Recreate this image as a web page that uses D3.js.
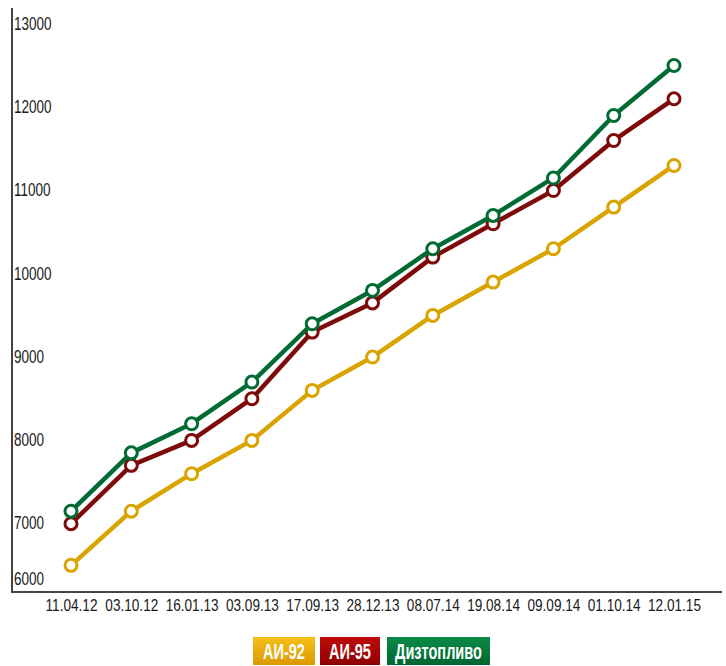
<!DOCTYPE html>
<html>
<head>
<meta charset="utf-8">
<script src="https://cdn.jsdelivr.net/npm/d3@7"></script>
<style>
  html, body { margin: 0; padding: 0; background: #fff; }
  svg { display: block; }
  .tick text { font-family: "Liberation Sans", Arial, sans-serif; font-size: 18px; fill: #1a1a1a; }
  .x-axis .tick text { font-size: 17px; }
  .legend text { font-family: "Liberation Sans", Arial, sans-serif; font-size: 22px; font-weight: bold; fill: #fff; }
</style>
</head>
<body>
<svg id="chart" width="726" height="666"></svg>
<script>
// Fuel prices by date
const dates = ["11.04.12", "03.10.12", "16.01.13", "03.09.13", "17.09.13", "28.12.13",
               "08.07.14", "19.08.14", "09.09.14", "01.10.14", "12.01.15"];
const ai92   = [6500, 7150, 7600, 8000, 8600, 9000, 9500, 9900, 10300, 10800, 11300];
const ai95   = [7000, 7700, 8000, 8500, 9300, 9650, 10200, 10600, 11000, 11600, 12100];
const diesel = [7150, 7850, 8200, 8700, 9400, 9800, 10300, 10700, 11150, 11900, 12500];
const yTicks = [6000, 7000, 8000, 9000, 10000, 11000, 12000, 13000];

const seriesNames = ["АИ-92", "АИ-95", "Дизтопливо"];
const lineColors = ["#D9A300", "#7E0A0A", "#006B33"];
const legendColors = [["#F6BE1A", "#DB9A00"], ["#C00A0A", "#8E0000"], ["#0A8A48", "#006631"]];

const series = [ai92, ai95, diesel];

// squeeze text horizontally to get a narrow face
function condense(sel, factor) {
  sel.each(function () {
    const len = this.getComputedTextLength();
    d3.select(this).attr("textLength", len * factor).attr("lengthAdjust", "spacingAndGlyphs");
  });
}

const svg = d3.select("#chart");
const plotLeft = 12, plotRight = 722, plotTop = 8, plotBottom = 592;

const x = d3.scalePoint().domain(dates).range([71, 674]);
const y = d3.scaleLinear().domain([6180, 13190]).range([plotBottom, plotTop]);

// axis lines
svg.append("line").attr("x1", plotLeft).attr("x2", plotLeft).attr("y1", plotTop).attr("y2", plotBottom)
  .attr("stroke", "#444").attr("stroke-width", 2);
svg.append("line").attr("x1", plotLeft - 1).attr("x2", plotRight).attr("y1", plotBottom).attr("y2", plotBottom)
  .attr("stroke", "#444").attr("stroke-width", 2);

// y tick labels sit inside the plot, just right of the axis
const yAxis = svg.append("g").attr("class", "y-axis").attr("transform", `translate(${plotLeft},0)`)
  .call(d3.axisRight(y).tickValues(yTicks).tickSize(0).tickPadding(2).tickFormat(d3.format("d")));
yAxis.select(".domain").remove();
yAxis.selectAll(".tick").attr("transform", d => `translate(0,${Math.min(y(d), plotBottom - 13)})`);
condense(yAxis.selectAll("text"), 0.75);

// x tick labels
const xAxis = svg.append("g").attr("class", "x-axis").attr("transform", `translate(0,${plotBottom})`)
  .call(d3.axisBottom(x).tickSize(0).tickPadding(7));
xAxis.select(".domain").remove();
condense(xAxis.selectAll("text"), 0.8);

// lines and markers
const line = d3.line().x((d, i) => x(dates[i])).y(d => y(d));
series.forEach((vals, s) => {
  const g = svg.append("g");
  g.append("path").datum(vals).attr("d", line)
    .attr("fill", "none").attr("stroke", lineColors[s]).attr("stroke-width", 4.5)
    .attr("stroke-linejoin", "round");
  g.selectAll("circle").data(vals).join("circle")
    .attr("cx", (d, i) => x(dates[i])).attr("cy", d => y(d)).attr("r", 6)
    .attr("fill", "#fff").attr("stroke", lineColors[s]).attr("stroke-width", 3);
});

// legend
const defs = svg.append("defs");
legendColors.forEach((c, i) => {
  const gr = defs.append("linearGradient").attr("id", "lg" + i)
    .attr("x1", 0).attr("y1", 0).attr("x2", 0).attr("y2", 1);
  gr.append("stop").attr("offset", "0%").attr("stop-color", c[0]);
  gr.append("stop").attr("offset", "100%").attr("stop-color", c[1]);
});
const legendBoxes = [{x: 253, w: 62}, {x: 320, w: 60}, {x: 387, w: 103}];
const legend = svg.append("g").attr("class", "legend");
seriesNames.forEach((name, i) => {
  const b = legendBoxes[i];
  legend.append("rect").attr("x", b.x).attr("y", 637).attr("width", b.w).attr("height", 28)
    .attr("fill", `url(#lg${i})`);
  legend.append("text").attr("x", b.x + b.w / 2).attr("y", 651)
    .attr("text-anchor", "middle").attr("dominant-baseline", "central").text(name);
});
condense(legend.selectAll("text"), 0.66);
</script>
</body>
</html>
